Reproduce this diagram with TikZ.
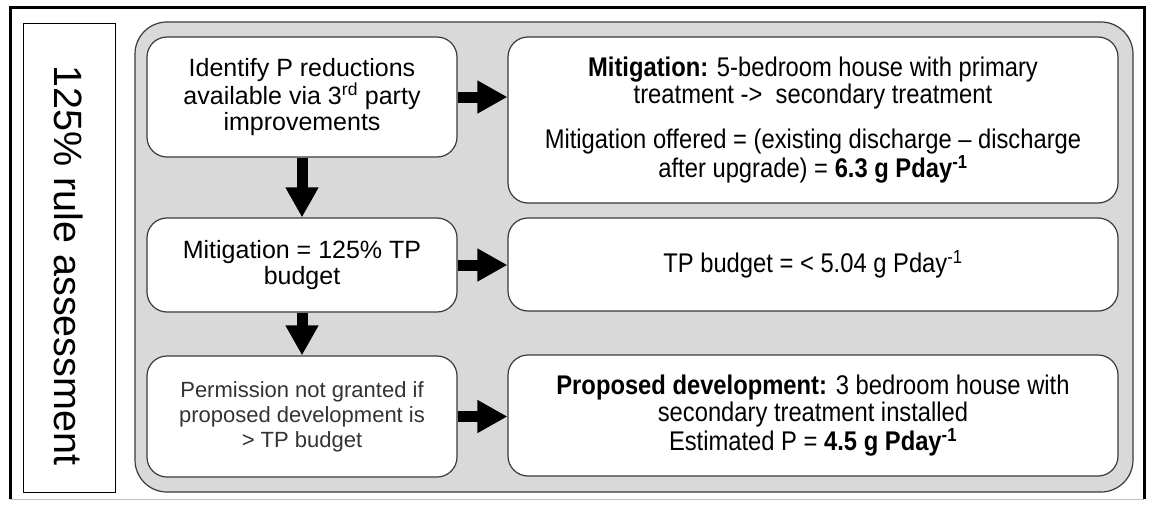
\documentclass[tikz,border=0pt]{standalone}
\usepackage{fontspec}
\setmainfont{Liberation Sans}
\newfontfamily\narrowsans[FakeStretch=0.88]{Liberation Sans}
\usetikzlibrary{arrows.meta}
\definecolor{panelfill}{HTML}{D9D9D9}
\definecolor{edge}{HTML}{3A3A3A}
\definecolor{softtext}{HTML}{333333}
\begin{document}
\begin{tikzpicture}[x=1pt,y=-1pt,
  panel/.style={draw=edge, fill=panelfill, line width=1.2pt, rounded corners=32pt},
  stepbox/.style={draw=edge, fill=white, line width=1.2pt, rounded corners=20pt,
    align=center, inner sep=0pt, font=\fontsize{25}{26.5}\selectfont},
  leftbox/.style={stepbox, minimum width=310pt},
  rightbox/.style={stepbox, minimum width=610pt,
    font=\narrowsans\fontsize{27}{27}\selectfont},
  sidebox/.style={draw=black, line width=1pt, fill=white,
    minimum width=92pt, minimum height=469pt, inner sep=0pt},
  sidetext/.style={rotate=-90, inner sep=0pt, font=\fontsize{39.5}{42}\selectfont},
  bigarrow/.style={line width=11pt, -{Triangle[length=30pt,width=31pt]}}
]
% page and frame
\fill[white] (0,0) rectangle (1149,506);
\useasboundingbox (0,0) rectangle (1149,506);
\draw[black, line width=3pt] (10,499) -- (10,7.5) -- (1144,7.5) -- (1144,499);
\draw[gray!50, line width=1pt] (10,499.5) -- (1144,499.5);

% vertical title
\node[sidebox] (side) at (69,257.5) {};
\node[sidetext] (title) at ([yshift=-8pt]side.center) {125\% rule assessment};

% grey background panel
\node[panel, minimum width=998pt, minimum height=470pt] (panel) at (634,257) {};

% left column
\node[leftbox, minimum height=120pt] (b1) at (302,97)
  {Identify P reductions\\available via 3\textsuperscript{rd} party\\improvements};
\node[leftbox, minimum height=94pt] (b2) at (302,265)
  {Mitigation = 125\% TP\\budget};
\node[leftbox, minimum height=121pt, text=softtext,
      font=\fontsize{22}{25}\selectfont] (b3) at (302,416.5)
  {Permission not granted if\\proposed development is\\> TP budget};

% right column
\node[rightbox, minimum height=166pt] (r1) at (813,120)
  {\textbf{Mitigation:} 5-bedroom house with primary\\
   treatment -> \ secondary treatment\\[18pt]
   Mitigation offered = (existing discharge – discharge\\
   after upgrade) = \textbf{6.3 g Pday\textsuperscript{-1}}};
\node[rightbox, minimum height=93pt] (r2) at (813,264.5)
  {TP budget = < 5.04 g Pday\textsuperscript{-1}};
\node[rightbox, minimum height=121pt] (r3) at (813,415.5)
  {\textbf{Proposed development:} 3 bedroom house with\\
   secondary treatment installed\\
   Estimated P = \textbf{4.5 g Pday\textsuperscript{-1}}};

% connectors
\draw[bigarrow] (b1.east) -- (r1.west |- b1.east);
\draw[bigarrow] (b2.east) -- (r2.west |- b2.east);
\draw[bigarrow] (b3.east) -- (r3.west |- b3.east);
\draw[bigarrow] (b1.south) -- (b2.north);
\draw[bigarrow] (b2.south) -- (b3.north);
\end{tikzpicture}
\end{document}
